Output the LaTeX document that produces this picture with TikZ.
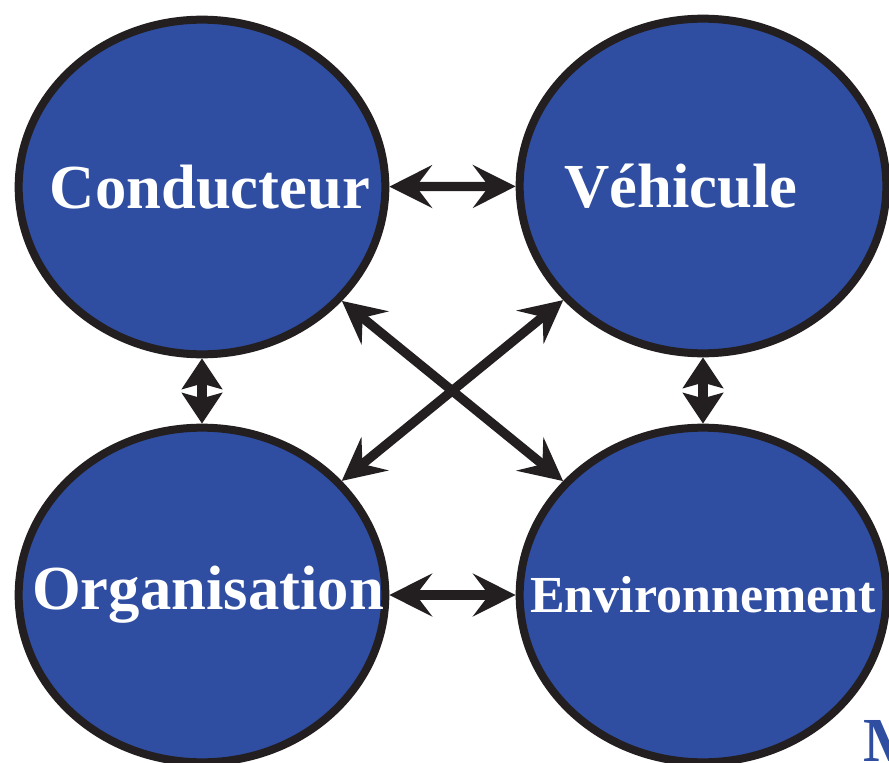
\documentclass[tikz,border=0pt]{standalone}
\usepackage{fontspec}
\setmainfont{Liberation Serif}
\usetikzlibrary{arrows.meta,shapes.geometric}
\definecolor{boxblue}{RGB}{47,77,161}
\definecolor{edgeblack}{RGB}{35,31,32}

\begin{document}
\begin{tikzpicture}[x=0.75pt,y=-0.75pt,
  bubble/.style={ellipse,draw=edgeblack,line width=6pt,fill=boxblue,
    minimum width=275pt,minimum height=251pt,inner sep=0pt,text=white,
    font=\fontsize{47}{50}\bfseries\selectfont},
  link/.style={{Stealth[length=32pt,width=32pt,inset=12pt]}-{Stealth[length=32pt,width=32pt,inset=12pt]},
    line width=7pt,draw=edgeblack},
  shortlink/.style={{Stealth[length=23pt,width=30pt,inset=4pt]}-{Stealth[length=23pt,width=30pt,inset=4pt]},
    line width=7pt,draw=edgeblack}]
  \useasboundingbox (0,0) rectangle (889,763);
  \node[bubble] (1) at (202,187) {\makebox[0pt]{\hspace*{12pt}Conducteur}};
  \node[bubble] (2) at (703,186) {\makebox[0pt]{Véhicule\hspace*{33pt}}};
  \node[bubble] (3) at (202,595) {\makebox[0pt]{\hspace*{9pt}Organisation}};
  \node[bubble,font=\fontsize{39}{42}\bfseries\selectfont] (4) at (703,595) {\makebox[0pt]{Environnement}};
  \draw[link] (1)--(2);
  \draw[link] (3)--(4);
  \draw[link] (1)--(4);
  \draw[link] (2)--(3);
  \draw[shortlink] (1)--(3);
  \draw[shortlink] (2)--(4);
  \node[anchor=north west,inner sep=0pt,text=boxblue,font=\fontsize{47}{50}\bfseries\selectfont] (5) at (863,720) {M};
\end{tikzpicture}
\end{document}
